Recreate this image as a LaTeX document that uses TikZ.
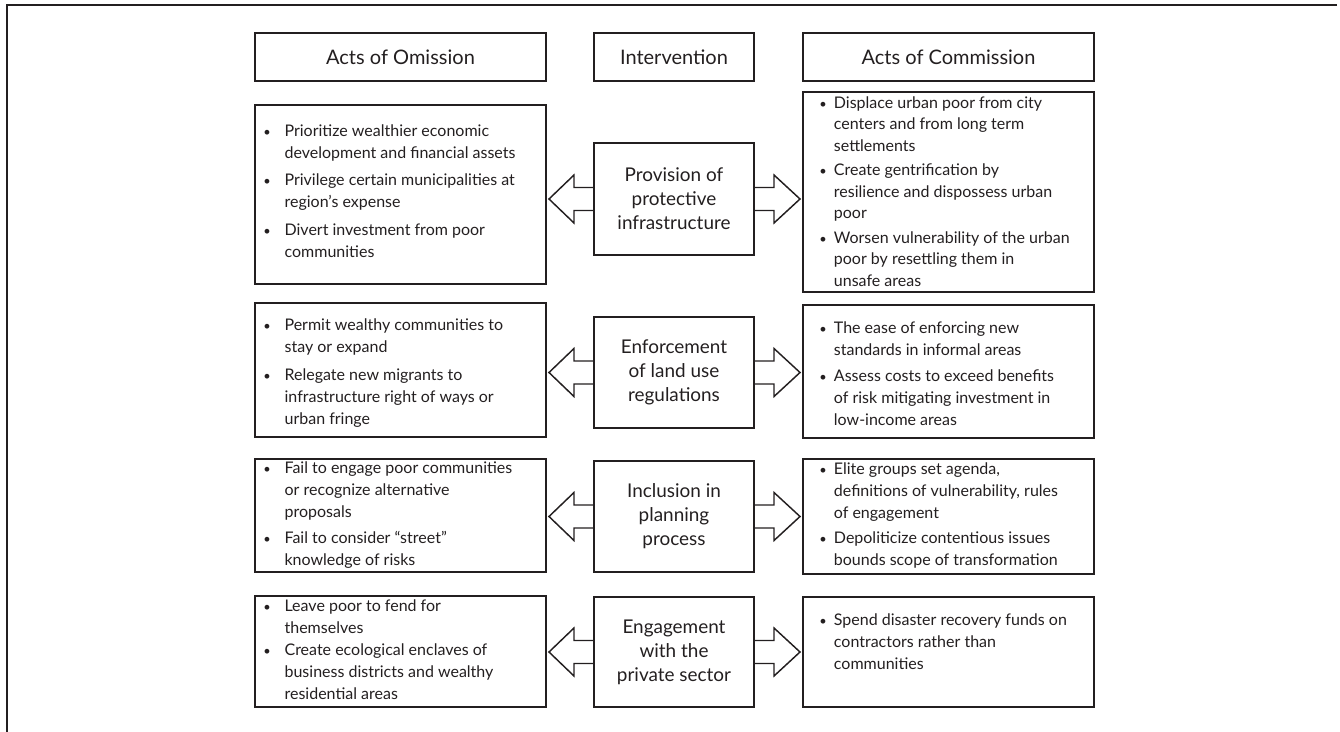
\documentclass[tikz,border=0pt]{standalone}
\usepackage{fontspec}
\setmainfont{Lato}
\usepackage{array}
\usepackage{graphicx}
\usetikzlibrary{calc}
\definecolor{ink}{RGB}{35,31,32}
\newlength{\bw}
\newenvironment{blist}[1]{\setlength{\bw}{#1}\begin{tabular}{@{}p{\bw}@{}l@{}}}{\end{tabular}}
\newcommand{\bu}{\scalebox{0.8}{\textbullet}}
\begin{document}
\begin{tikzpicture}[x=0.75pt,y=-0.75pt,
  box/.style={draw=ink, line width=1.1pt, inner sep=0pt, outer sep=0pt, text=ink},
  hdr/.style={box, minimum height=36pt, font=\fontsize{15}{18}\selectfont},
  side/.style={box, minimum width=218.25pt},
  mid/.style={box, minimum width=120pt, align=center, font=\fontsize{14.2}{18}\selectfont},
  txt/.style={inner sep=0pt, text=ink, font=\fontsize{12}{16.5}\selectfont},
  barrow/.style={draw=ink, line width=1.1pt, line join=miter}]
\useasboundingbox (0,0) rectangle (1340,732);
\draw[ink, line width=1.1pt] (1337,5) -- (7,5) -- (7,732);

% headers
\node[hdr, minimum width=218.25pt] (h1) at (400.5,57) {Acts of Omission};
\node[hdr, minimum width=120pt] (h2) at (674,57) {Intervention};
\node[hdr, minimum width=218.25pt] (h3) at (948.5,57) {Acts of Commission};

% row 1
\node[side, minimum height=134.25pt] (l1) at (400.5,194.5) {};
\node[mid, minimum height=84pt] (c1) at (674,199) {Provision of\\protective\\infrastructure};
\node[side, minimum height=150pt] (r1) at (948.5,192) {};
\node[txt, anchor=west] (l1t) at ($(l1.west)+(8,-2)$) {\begin{blist}{16pt}
\bu & Prioritize wealthier economic\\
    & development and financial assets\\[4pt]
\bu & Privilege certain municipalities at\\
    & region’s expense\\[4pt]
\bu & Divert investment from poor\\
    & communities
\end{blist}};
\node[txt, font=\fontsize{12}{16.1}\selectfont, anchor=west] (r1t) at ($(r1.west)+(16,1)$) {\begin{blist}{11pt}
\bu & Displace urban poor from city\\
    & centers and from long term\\
    & settlements\\[2.4pt]
\bu & Create gentrification by\\
    & resilience and dispossess urban\\
    & poor\\[2.4pt]
\bu & Worsen vulnerability of the urban\\
    & poor by resettling them in\\
    & unsafe areas
\end{blist}};

% row 2
\node[side, minimum height=100.5pt] (l2) at (400.5,370) {};
\node[mid, minimum height=83.25pt] (c2) at (674,372.5) {Enforcement\\of land use\\regulations};
\node[side, minimum height=99.75pt] (r2) at (948.5,371.5) {};
\node[txt, anchor=west] (l2t) at ($(l2.west)+(8,3)$) {\begin{blist}{16pt}
\bu & Permit wealthy communities to\\
    & stay or expand\\[4pt]
\bu & Relegate new migrants to\\
    & infrastructure right of ways or\\
    & urban fringe
\end{blist}};
\node[txt, anchor=west] (r2t) at ($(r2.west)+(16,4)$) {\begin{blist}{11pt}
\bu & The ease of enforcing new\\
    & standards in informal areas\\[3pt]
\bu & Assess costs to exceed benefits\\
    & of risk mitigating investment in\\
    & low-income areas
\end{blist}};

% row 3
\node[side, minimum height=84.75pt] (l3) at (400.5,515.5) {};
\node[mid, minimum height=83.25pt] (c3) at (674,516.5) {Inclusion in\\planning\\process};
\node[side, minimum height=86.25pt] (r3) at (948.5,516.5) {};
\node[txt, anchor=west] (l3t) at ($(l3.west)+(8,0)$) {\begin{blist}{16pt}
\bu & Fail to engage poor communities\\
    & or recognize alternative\\
    & proposals\\[3pt]
\bu & Fail to consider “street”\\
    & knowledge of risks
\end{blist}};
\node[txt, anchor=west] (r3t) at ($(r3.west)+(16,-1)$) {\begin{blist}{11pt}
\bu & Elite groups set agenda,\\
    & definitions of vulnerability, rules\\
    & of engagement\\[2pt]
\bu & Depoliticize contentious issues\\
    & bounds scope of transformation
\end{blist}};

% row 4
\node[side, minimum height=83.25pt] (l4) at (400.5,651.5) {};
\node[mid, minimum height=82.5pt] (c4) at (674,652) {Engagement\\with the\\private sector};
\node[side, minimum height=82.5pt] (r4) at (948.5,652) {};
\node[txt, anchor=west] (l4t) at ($(l4.west)+(8,0)$) {\begin{blist}{16pt}
\bu & Leave poor to fend for\\
    & themselves\\
\bu & Create ecological enclaves of\\
    & business districts and wealthy\\
    & residential areas
\end{blist}};
\node[txt, anchor=north west] (r4t) at ($(r4.north west)+(16,13)$) {\begin{blist}{11pt}
\bu & Spend disaster recovery funds on\\
    & contractors rather than\\
    & communities
\end{blist}};

% block arrows
\foreach \c/\l/\r in {c1/l1/r1, c2/l2/r2, c3/l3/r3, c4/l4/r4}{
  \draw[barrow] ($(\c.west)+(0,-11.5)$) -- ++(-20,0) -- ++(0,-12.5)
     -- ($(\l.east|-\c.west)+(3,0)$)
     -- ($(\c.west)+(-20,24)$) -- ++(0,-12.5) -- ($(\c.west)+(0,11.5)$);
  \draw[barrow] ($(\c.east)+(0,-11.5)$) -- ++(20,0) -- ++(0,-12.5)
     -- ($(\r.west|-\c.east)+(-3,0)$)
     -- ($(\c.east)+(20,24)$) -- ++(0,-12.5) -- ($(\c.east)+(0,11.5)$);
}
\end{tikzpicture}
\end{document}
